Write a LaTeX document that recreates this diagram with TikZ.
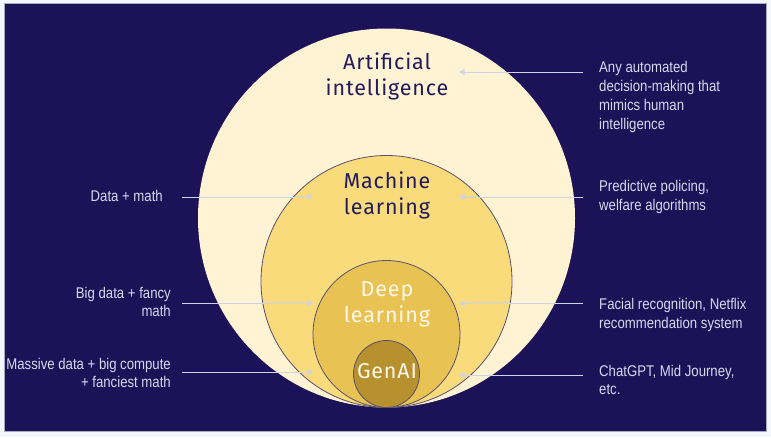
\documentclass[tikz,border=0pt]{standalone}
\usepackage{fontspec}
\setmainfont{Fira Sans}
\newfontfamily\titlefont[LetterSpace=4]{Fira Sans}
\newfontfamily\sidefont[FakeStretch=0.85]{Liberation Sans}
\usetikzlibrary{shapes.geometric,arrows.meta}
\definecolor{outerbg}{HTML}{F5F6FB}
\definecolor{frame}{HTML}{A9A9BE}
\definecolor{bgnavy}{HTML}{1B1257}
\definecolor{aicol}{HTML}{FFF3D3}
\definecolor{mlcol}{HTML}{F9DB7B}
\definecolor{dlcol}{HTML}{E8C253}
\definecolor{gacol}{HTML}{B8912F}
\definecolor{ring}{HTML}{575070}
\definecolor{sidetxt}{HTML}{D6D9EC}
\definecolor{arrowcol}{HTML}{CFD3E8}
\definecolor{titletxt}{HTML}{221B5C}
\definecolor{lighttxt}{HTML}{FFF8EA}
\tikzset{
  setbox/.style={ellipse, inner sep=0pt, outer sep=0pt},
  ringline/.style={draw=ring, line width=0.8pt},
  titledark/.style={font=\titlefont\fontsize{21.5}{26}\selectfont, text=titletxt, align=center, inner sep=0pt},
  titlelight/.style={font=\titlefont\fontsize{21.5}{26}\selectfont, text=lighttxt, align=center, inner sep=0pt},
  sidelabel/.style={font=\sidefont\fontsize{15.5}{18.7}\selectfont, text=sidetxt, inner sep=0pt},
  conn/.style={draw=arrowcol, line width=0.9pt, -{Triangle[width=5.5pt,length=5.5pt]}}
}
\begin{document}
\begin{tikzpicture}[x=1pt,y=-1pt]
\useasboundingbox (0,0) rectangle (771,437);
\fill[outerbg] (0,0) rectangle (771,437);
\draw[fill=bgnavy, draw=frame, line width=0.8pt] (4.5,3.5) rectangle (766.5,431.5);

% nested sets
\node[setbox, fill=aicol, minimum width=377pt, minimum height=379pt] (ai) at (386.5,218) {};
\node[setbox, ringline, fill=mlcol, minimum width=251pt, minimum height=252pt] (ml) at (386.5,281.5) {};
\node[setbox, ringline, fill=dlcol, minimum width=147pt, minimum height=147pt] (dl) at (386.5,334) {};
\node[setbox, ringline, fill=gacol, minimum width=66pt, minimum height=67pt] (ga) at (386.5,374) {};

% titles
\node[titledark] (aiT) at (387,76) {Artificial\\intelligence};
\node[titledark] (mlT) at (387,195) {Machine\\learning};
\node[titlelight] (dlT) at (387,304) {Deep\\learning};
\node[titlelight] (gaT) at (387,371) {GenAI};

% right labels
\node[sidelabel, anchor=west, align=left] (rA) at (599,97) {Any automated\\decision-making that\\mimics human\\intelligence};
\node[sidelabel, anchor=west, align=left] (rM) at (599,197) {Predictive policing,\\welfare algorithms};
\node[sidelabel, anchor=west, align=left] (rD) at (599,315) {Facial recognition, Netflix\\recommendation system};
\node[sidelabel, anchor=west, align=left] (rG) at (599,380) {ChatGPT, Mid Journey,\\etc.};

% left labels
\node[sidelabel, anchor=east, align=right] (lM) at (163,196) {Data + math};
\node[sidelabel, anchor=east, align=right] (lD) at (171,302) {Big data + fancy\\math};
\node[sidelabel, anchor=east, align=right] (lG) at (171,373) {Massive data + big compute\\+ fanciest math};

% connector ends
\coordinate (rAs) at (583,72);  \coordinate (rAe) at (459,72);
\coordinate (rMs) at (583,197); \coordinate (rMe) at (459,197);
\coordinate (rDs) at (583,303.5); \coordinate (rDe) at (459,303.5);
\coordinate (rGs) at (583,375); \coordinate (rGe) at (459,375);
\coordinate (lMs) at (182,197); \coordinate (lMe) at (313,197);
\coordinate (lDs) at (182,303.5); \coordinate (lDe) at (313,303.5);
\coordinate (lGs) at (182,372); \coordinate (lGe) at (313,372);

\draw[conn] (rAs) -- (rAe);
\draw[conn] (rMs) -- (rMe);
\draw[conn] (rDs) -- (rDe);
\draw[conn] (rGs) -- (rGe);
\draw[conn] (lMs) -- (lMe);
\draw[conn] (lDs) -- (lDe);
\draw[conn] (lGs) -- (lGe);
\end{tikzpicture}
\end{document}
